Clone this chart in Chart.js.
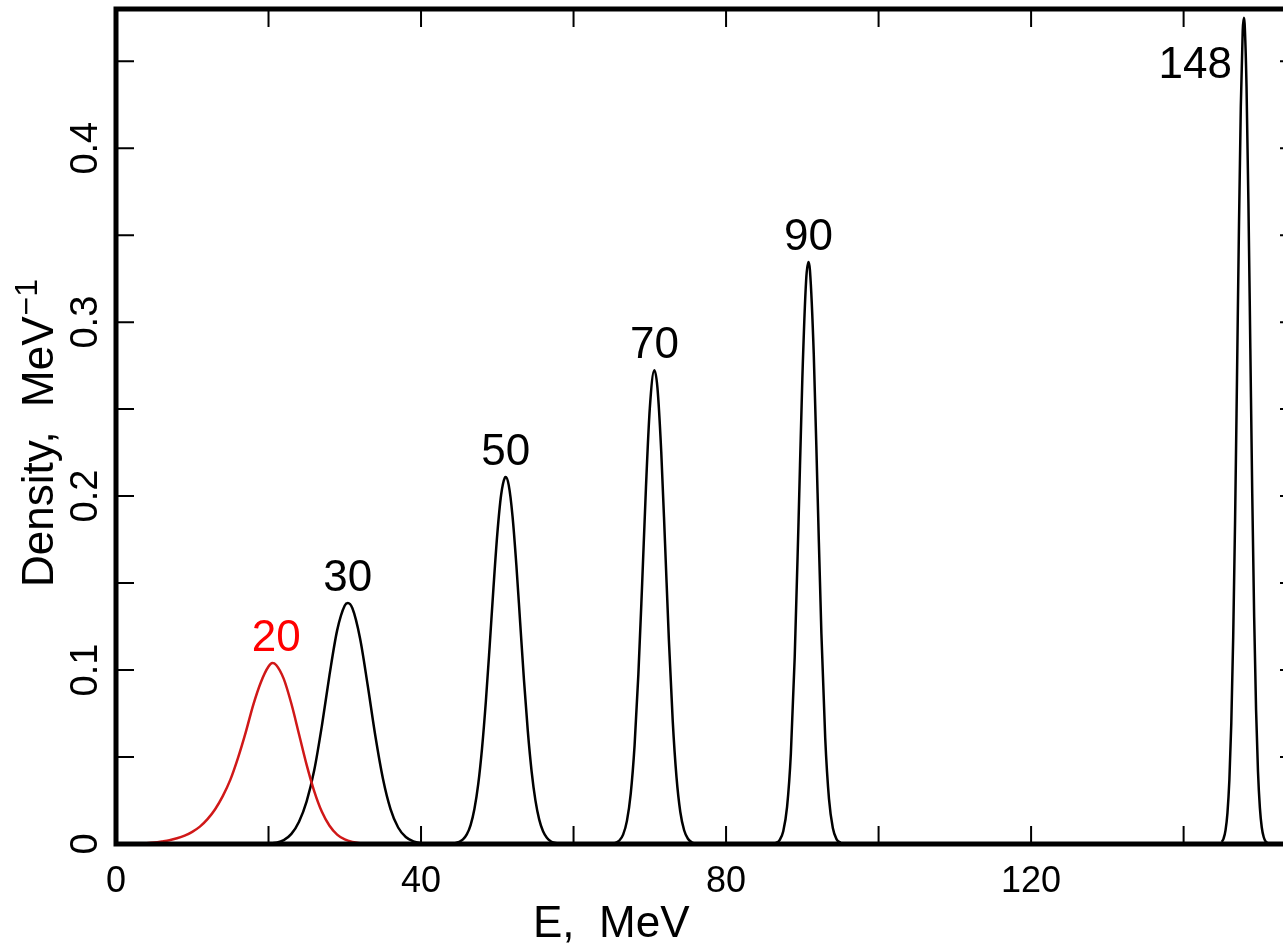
<!DOCTYPE html>
<html>
<head>
<meta charset="utf-8">
<script src="https://cdn.jsdelivr.net/npm/chart.js@4/dist/chart.umd.min.js"></script>
<style>
  html, body { margin: 0; padding: 0; background: #fff; overflow: hidden; }
  canvas { display: block; }
</style>
</head>
<body>
<canvas id="c" width="1310" height="948" style="width:1310px;height:948px"></canvas>
<script>
// Energy spectra (density per MeV) for the beam energies 20 ... 148 MeV
const e20 = [3,4,5,6,7,8,9,10,11,12,13,14,15,16,17,18,19,20,20.5,21,22,23,24,25,26,27,28,29,30,31,32,33];
const d20 = [0.0002,0.0005,0.0009,0.0015,0.0022,0.0033,0.0048,0.0070,0.0100,0.0143,0.0200,0.0275,0.0370,0.0495,0.0640,0.0800,0.0930,0.1020,0.1040,0.1029,0.0949,0.0806,0.0631,0.0455,0.0303,0.0185,0.0105,0.0054,0.0026,0.0012,0.0005,0.0002];

const e30 = [20,21,22,23,24,25,26,27,28,29,30,30.4,31,32,33,34,35,36,37,38,39,40,41];
const d30 = [0.0002,0.0007,0.0022,0.0058,0.0128,0.0245,0.0425,0.0680,0.0972,0.1228,0.1371,0.1385,0.1355,0.1183,0.0914,0.0624,0.0377,0.0201,0.0095,0.0040,0.0015,0.0005,0.0001];

const e50 = [44.5,45,45.5,46,46.5,47,47.5,48,48.5,49,49.5,50,50.5,51,51.1,51.5,52,52.5,53,53.5,54,54.5,55,55.5,56,56.5,57,57.5,58];
const d50 = [0.0005,0.0012,0.0026,0.0055,0.0109,0.0201,0.0344,0.0550,0.0819,0.1138,0.1474,0.1781,0.2006,0.2107,0.2110,0.2063,0.1884,0.1604,0.1273,0.0942,0.0650,0.0418,0.0251,0.0140,0.0073,0.0036,0.0016,0.0007,0.0003];

const e70 = [65,65.5,66,66.5,67,67.5,68,68.5,69,69.5,70,70.6,71,71.5,72,72.5,73,73.5,74,74.5,75,75.5,76];
const d70 = [0.0002,0.0006,0.0020,0.0054,0.0133,0.0290,0.0564,0.0975,0.1500,0.2055,0.2505,0.2724,0.2624,0.2255,0.1726,0.1175,0.0712,0.0384,0.0184,0.0079,0.0030,0.0010,0.0003];

const e90 = [86.5,87,87.5,88,88.5,89,89.5,90,90.5,90.8,91,91.5,92,92.5,93,93.5,94,94.5,95];
const d90 = [0.0005,0.0021,0.0073,0.0213,0.0522,0.1072,0.1847,0.2672,0.3241,0.3345,0.3298,0.2816,0.2017,0.1212,0.0611,0.0258,0.0092,0.0027,0.0007];

const e148 = [145,145.25,145.5,145.75,146,146.25,146.5,146.75,147,147.25,147.5,147.75,147.9,148,148.25,148.5,148.75,149,149.25,149.5,149.75,150,150.25,150.5,150.75,151];
const d148 = [0.0012,0.0033,0.0080,0.0179,0.0368,0.0690,0.1185,0.1861,0.2676,0.3521,0.4241,0.4675,0.4750,0.4716,0.4355,0.3681,0.2847,0.2014,0.1306,0.0774,0.0420,0.0209,0.0095,0.0040,0.0015,0.0005];

// Peak labels (nominal beam energy, MeV)
const peakLabels = ['20', '30', '50', '70', '90', '148'];

// Axis ticks and labelled values
const xTicks = [20, 40, 60, 80, 100, 120, 140];
const xTickLabels = [0, 40, 80, 120];
const yTicks = [0.05, 0.1, 0.15, 0.2, 0.25, 0.3, 0.35, 0.4, 0.45];
const yTickLabels = [0, 0.1, 0.2, 0.3, 0.4];

const RED = '#d01818';
const FONT = '"Liberation Sans", Arial, Helvetica, sans-serif';

const pts = (xs, ys) => xs.map((x, i) => ({ x: x, y: ys[i] }));

const series = [
  { e: e20, d: d20, color: RED, labelColor: '#ff0000' },
  { e: e30, d: d30, color: '#000', labelColor: '#000' },
  { e: e50, d: d50, color: '#000', labelColor: '#000' },
  { e: e70, d: d70, color: '#000', labelColor: '#000' },
  { e: e90, d: d90, color: '#000', labelColor: '#000' },
  { e: e148, d: d148, color: '#000', labelColor: '#000' }
];

const datasets = series.map((s, i) => ({
  label: peakLabels[i] + ' MeV',
  data: pts(s.e, s.d),
  borderColor: s.color,
  borderWidth: 2.5,
  pointRadius: 0,
  fill: false,
  cubicInterpolationMode: 'monotone',
  order: i === 0 ? 0 : 1
}));

// Frame, inward ticks, tick labels, titles and peak labels
const framePlugin = {
  id: 'framePlugin',
  afterDatasetsDraw(chart) {
    const { ctx, chartArea: a, scales: { x, y } } = chart;
    ctx.save();
    ctx.strokeStyle = '#000';
    ctx.fillStyle = '#000';

    // inward ticks on all four sides
    ctx.lineWidth = 2;
    ctx.beginPath();
    xTicks.forEach(v => {
      const px = x.getPixelForValue(v);
      ctx.moveTo(px, a.bottom); ctx.lineTo(px, a.bottom - 18);
      ctx.moveTo(px, a.top); ctx.lineTo(px, a.top + 18);
    });
    yTicks.forEach(v => {
      const py = y.getPixelForValue(v);
      ctx.moveTo(a.left, py); ctx.lineTo(a.left + 18, py);
      ctx.moveTo(a.right, py); ctx.lineTo(a.right - 18, py);
    });
    ctx.stroke();

    // heavy box
    ctx.lineWidth = 5;
    ctx.lineJoin = 'miter';
    ctx.strokeRect(a.left, a.top, a.right - a.left, a.bottom - a.top);

    // x tick labels
    ctx.font = '36px ' + FONT;
    ctx.textAlign = 'center';
    ctx.textBaseline = 'alphabetic';
    xTickLabels.forEach(v => {
      ctx.fillText(String(v), x.getPixelForValue(v), a.bottom + 48);
    });

    // y tick labels, rotated
    ctx.font = '38px ' + FONT;
    yTickLabels.forEach(v => {
      const py = y.getPixelForValue(v);
      ctx.save();
      ctx.translate(a.left - 19, py);
      ctx.rotate(-Math.PI / 2);
      ctx.textAlign = 'center';
      ctx.fillText(String(v), 0, 0);
      ctx.restore();
    });

    // y title with superscript
    ctx.save();
    ctx.translate(53, 587);
    ctx.rotate(-Math.PI / 2);
    ctx.textAlign = 'left';
    ctx.font = '44px ' + FONT;
    const main = 'Density,  MeV';
    ctx.fillText(main, 0, 0);
    const w = ctx.measureText(main).width;
    ctx.font = '32px ' + FONT;
    ctx.fillText('\u22121', w + 1, -16);
    ctx.restore();

    // x title
    ctx.font = '44px ' + FONT;
    ctx.textAlign = 'left';
    ctx.fillText('E,  MeV', 533, 937);

    // peak labels
    ctx.font = '44px ' + FONT;
    chart.data.datasets.forEach((ds, i) => {
      let best = ds.data[0];
      ds.data.forEach(p => { if (p.y > best.y) best = p; });
      const px = x.getPixelForValue(best.x);
      const py = y.getPixelForValue(best.y);
      ctx.fillStyle = series[i].labelColor;
      if (peakLabels[i] === '148') {
        ctx.textAlign = 'right';
        ctx.fillText(peakLabels[i], px - 12, py + 60);
      } else {
        ctx.textAlign = 'center';
        ctx.fillText(peakLabels[i], px + (i === 0 ? 4 : 0), py - 12);
      }
    });
    ctx.restore();
  }
};

new Chart(document.getElementById('c'), {
  type: 'line',
  data: { datasets },
  options: {
    responsive: false,
    animation: false,
    devicePixelRatio: 1,
    layout: { padding: { left: 0, right: 12, top: 9, bottom: 0 } },
    plugins: { legend: { display: false }, tooltip: { enabled: false } },
    scales: {
      x: {
        type: 'linear', min: 0, max: 155,
        ticks: { display: false },
        grid: { display: false },
        border: { display: false },
        afterFit(s) { s.height = 104; }
      },
      y: {
        type: 'linear', min: 0, max: 0.48,
        ticks: { display: false },
        grid: { display: false },
        border: { display: false },
        afterFit(s) { s.width = 116; }
      }
    }
  },
  plugins: [framePlugin]
});
</script>
</body>
</html>
